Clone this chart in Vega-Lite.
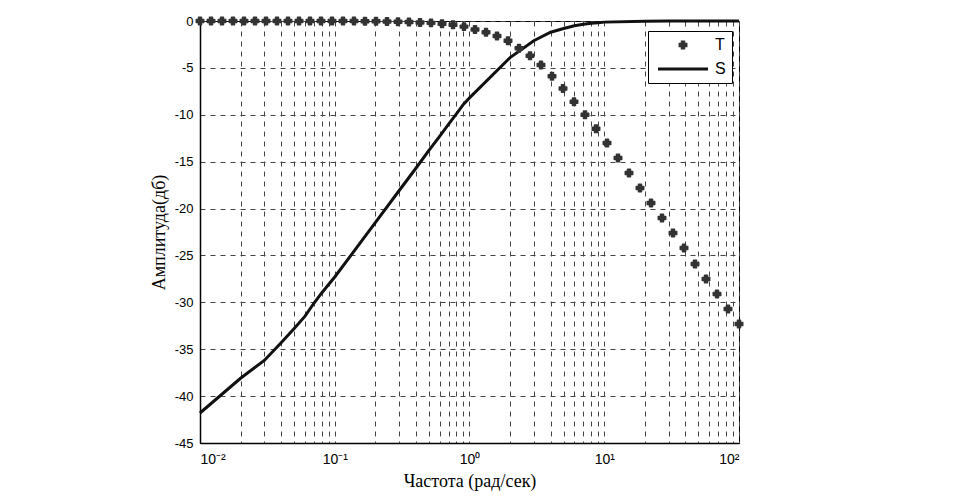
{
  "$schema": "https://vega.github.io/schema/vega-lite/v6.json",
  "width": 539,
  "height": 422,
  "autosize": {"type": "none"},
  "padding": {"left": 200, "top": 21, "right": 216, "bottom": 61},
  "background": "#ffffff",
  "config": {
    "view": {"stroke": "#000000", "strokeWidth": 1},
    "axis": {"labelFont": "Liberation Sans", "titleFont": "Liberation Serif", "titleFontWeight": "normal", "labelColor": "#000", "titleColor": "#000"}
  },
  "datasets": {
    "T": [
      {"f": 0.01, "db": 0, "series": "T"},
      {"f": 0.0120679, "db": 0, "series": "T"},
      {"f": 0.0145635, "db": 0, "series": "T"},
      {"f": 0.0175751, "db": 0, "series": "T"},
      {"f": 0.0212095, "db": 0, "series": "T"},
      {"f": 0.0255955, "db": 0, "series": "T"},
      {"f": 0.0308884, "db": 0, "series": "T"},
      {"f": 0.0372759, "db": 0, "series": "T"},
      {"f": 0.0449843, "db": 0, "series": "T"},
      {"f": 0.0542868, "db": 0, "series": "T"},
      {"f": 0.0655129, "db": 0, "series": "T"},
      {"f": 0.0790604, "db": 0, "series": "T"},
      {"f": 0.0954095, "db": 0, "series": "T"},
      {"f": 0.11514, "db": 0, "series": "T"},
      {"f": 0.13895, "db": 0, "series": "T"},
      {"f": 0.167683, "db": -0.02, "series": "T"},
      {"f": 0.202359, "db": -0.03, "series": "T"},
      {"f": 0.244205, "db": -0.05, "series": "T"},
      {"f": 0.294705, "db": -0.08, "series": "T"},
      {"f": 0.355648, "db": -0.11, "series": "T"},
      {"f": 0.429193, "db": -0.15, "series": "T"},
      {"f": 0.517947, "db": -0.2, "series": "T"},
      {"f": 0.625055, "db": -0.3, "series": "T"},
      {"f": 0.754312, "db": -0.4, "series": "T"},
      {"f": 0.910298, "db": -0.6, "series": "T"},
      {"f": 1.09854, "db": -0.9, "series": "T"},
      {"f": 1.32571, "db": -1.2, "series": "T"},
      {"f": 1.59986, "db": -1.6, "series": "T"},
      {"f": 1.9307, "db": -2.1, "series": "T"},
      {"f": 2.32995, "db": -2.9, "series": "T"},
      {"f": 2.81177, "db": -3.7, "series": "T"},
      {"f": 3.39322, "db": -4.7, "series": "T"},
      {"f": 4.09492, "db": -5.9, "series": "T"},
      {"f": 4.94171, "db": -7.2, "series": "T"},
      {"f": 5.96362, "db": -8.6, "series": "T"},
      {"f": 7.19686, "db": -10.0, "series": "T"},
      {"f": 8.68511, "db": -11.5, "series": "T"},
      {"f": 10.4811, "db": -13.0, "series": "T"},
      {"f": 12.6486, "db": -14.6, "series": "T"},
      {"f": 15.2642, "db": -16.2, "series": "T"},
      {"f": 18.4207, "db": -17.8, "series": "T"},
      {"f": 22.23, "db": -19.4, "series": "T"},
      {"f": 26.827, "db": -21.0, "series": "T"},
      {"f": 32.3746, "db": -22.6, "series": "T"},
      {"f": 39.0694, "db": -24.2, "series": "T"},
      {"f": 47.1487, "db": -25.9, "series": "T"},
      {"f": 56.8987, "db": -27.5, "series": "T"},
      {"f": 68.6649, "db": -29.1, "series": "T"},
      {"f": 82.8643, "db": -30.7, "series": "T"},
      {"f": 100, "db": -32.3, "series": "T"}
    ],
    "S": [
      {"f": 0.01, "db": -41.8, "series": "S"},
      {"f": 0.02, "db": -38.1, "series": "S"},
      {"f": 0.03, "db": -36.2, "series": "S"},
      {"f": 0.04, "db": -34.3, "series": "S"},
      {"f": 0.05, "db": -32.8, "series": "S"},
      {"f": 0.06, "db": -31.5, "series": "S"},
      {"f": 0.07, "db": -30.1, "series": "S"},
      {"f": 0.08, "db": -29.0, "series": "S"},
      {"f": 0.09, "db": -28.1, "series": "S"},
      {"f": 0.1, "db": -27.3, "series": "S"},
      {"f": 0.2, "db": -21.5, "series": "S"},
      {"f": 0.3, "db": -18.1, "series": "S"},
      {"f": 0.4, "db": -15.7, "series": "S"},
      {"f": 0.5, "db": -13.8, "series": "S"},
      {"f": 0.6, "db": -12.3, "series": "S"},
      {"f": 0.7, "db": -11.0, "series": "S"},
      {"f": 0.8, "db": -9.9, "series": "S"},
      {"f": 0.9, "db": -8.9, "series": "S"},
      {"f": 1, "db": -8.2, "series": "S"},
      {"f": 2, "db": -3.9, "series": "S"},
      {"f": 3, "db": -2.1, "series": "S"},
      {"f": 4, "db": -1.2, "series": "S"},
      {"f": 5, "db": -0.8, "series": "S"},
      {"f": 6, "db": -0.5, "series": "S"},
      {"f": 7, "db": -0.35, "series": "S"},
      {"f": 8, "db": -0.25, "series": "S"},
      {"f": 9, "db": -0.18, "series": "S"},
      {"f": 10, "db": -0.12, "series": "S"},
      {"f": 20, "db": -0.02, "series": "S"},
      {"f": 30, "db": 0, "series": "S"},
      {"f": 40, "db": 0, "series": "S"},
      {"f": 50, "db": 0, "series": "S"},
      {"f": 60, "db": 0, "series": "S"},
      {"f": 70, "db": 0, "series": "S"},
      {"f": 80, "db": 0, "series": "S"},
      {"f": 90, "db": 0, "series": "S"},
      {"f": 100, "db": 0, "series": "S"}
    ]
  },
  "encoding": {
    "x": {
      "field": "f", "type": "quantitative",
      "scale": {"type": "log", "domain": [0.01, 100], "nice": false},
      "axis": {
        "title": "Частота (рад/сек)",
        "titleFontSize": 18, "titlePadding": 6,
        "values": [0.01,0.02,0.03,0.04,0.05,0.06,0.07,0.08,0.09,0.1,0.2,0.3,0.4,0.5,0.6,0.7,0.8,0.9,1,2,3,4,5,6,7,8,9,10,20,30,40,50,60,70,80,90,100],
        "labelExpr": "datum.value == 0.01 ? '10⁻²' : datum.value == 0.1 ? '10⁻¹' : datum.value == 1 ? '10⁰' : datum.value == 10 ? '10¹' : datum.value == 100 ? '10²' : ''",
        "labelOverlap": false, "labelFontSize": 14, "labelPadding": 9,
        "ticks": false, "tickSize": 0,
        "grid": true, "gridColor": "#444", "gridDash": [5, 5], "gridWidth": 1, "gridOpacity": 1,
        "domainColor": "#000", "domainWidth": 1.5
      }
    },
    "y": {
      "field": "db", "type": "quantitative",
      "scale": {"domain": [-45, 0], "nice": false, "zero": false},
      "axis": {
        "title": "Амплитуда(дб)",
        "titleFontSize": 18, "titlePadding": 6,
        "values": [-45,-40,-35,-30,-25,-20,-15,-10,-5,0],
        "labelExpr": "'' + datum.value",
        "labelFontSize": 13, "labelPadding": 7,
        "ticks": false, "tickSize": 0,
        "grid": true, "gridColor": "#444", "gridDash": [5, 5], "gridWidth": 1, "gridOpacity": 1,
        "domainColor": "#000", "domainWidth": 1.5
      }
    },
    "color": {
      "field": "series", "type": "nominal",
      "scale": {"domain": ["T", "S"], "range": ["#333333", "#111111"]},
      "legend": {
        "title": null, "orient": "none", "legendX": 448, "legendY": 10,
        "strokeColor": "#000", "fillColor": "#fff", "padding": 6,
        "labelFont": "Liberation Sans", "labelFontSize": 16, "labelColor": "#000", "labelOffset": 8,
        "rowPadding": 8,
        "encode": {
          "symbols": {
            "update": {
              "shape": {"signal": "datum.value === 'T' ? 'M-0.4,-1L0.4,-1L0.4,-0.4L1,-0.4L1,0.4L0.4,0.4L0.4,1L-0.4,1L-0.4,0.4L-1,0.4L-1,-0.4L-0.4,-0.4Z' : 'stroke'"},
              "size": {"signal": "datum.value === 'T' ? 56 : 2500"},
              "xc": {"value": 29},
              "fill": {"signal": "datum.value === 'T' ? '#333333' : 'transparent'"},
              "stroke": {"signal": "datum.value === 'T' ? '#333333' : '#111111'"},
              "strokeWidth": {"signal": "datum.value === 'T' ? 1.5 : 3"},
              "opacity": {"value": 1}
            }
          },
          "labels": {
            "update": {
              "x": {"value": 61}
            }
          }
        }
      }
    }
  },
  "layer": [
    {
      "data": {"name": "S"},
      "mark": {"type": "line", "strokeWidth": 3, "clip": false}
    },
    {
      "data": {"name": "T"},
      "mark": {
        "type": "point", "filled": true, "opacity": 1,
        "shape": "M-0.4,-1L0.4,-1L0.4,-0.4L1,-0.4L1,0.4L0.4,0.4L0.4,1L-0.4,1L-0.4,0.4L-1,0.4L-1,-0.4L-0.4,-0.4Z",
        "size": 56, "strokeWidth": 1.5, "strokeJoin": "round", "stroke": "#333333"
      }
    }
  ]
}
